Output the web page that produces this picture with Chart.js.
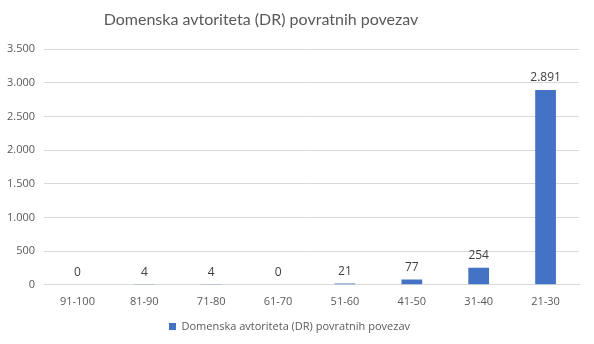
<!DOCTYPE html>
<html>
<head>
<meta charset="utf-8">
<script src="https://cdn.jsdelivr.net/npm/chart.js@4/dist/chart.umd.min.js"></script>
<style>
  html, body { margin: 0; padding: 0; background: #fff; }
  #wrap { width: 594px; height: 344px; position: relative; }
</style>
</head>
<body>
<div id="wrap"><canvas id="dr-chart"></canvas></div>
<script>
// backlink domain rating buckets
const categories = ['91-100', '81-90', '71-80', '61-70', '51-60', '41-50', '31-40', '21-30'];
const backlinks = [0, 4, 4, 0, 21, 77, 254, 2891];
const seriesName = 'Domenska avtoriteta (DR) povratnih povezav';
const chartTitle = 'Domenska avtoriteta (DR) povratnih povezav';

const fontFamily = "'Open Sans', 'Liberation Sans', sans-serif";

// Slovenian thousands separator
const fmt = (v) => String(v).replace(/\B(?=(\d{3})+(?!\d))/g, '.');

// value labels above each bar
const valueLabels = {
  id: 'valueLabels',
  afterDatasetsDraw(chart) {
    const ctx = chart.ctx;
    const meta = chart.getDatasetMeta(0);
    ctx.save();
    ctx.font = '12px ' + fontFamily;
    ctx.fillStyle = '#404040';
    ctx.textAlign = 'center';
    ctx.textBaseline = 'bottom';
    meta.data.forEach((bar, i) => {
      ctx.fillText(fmt(backlinks[i]), bar.x, bar.y - 6);
    });
    ctx.restore();
  }
};

// title sits a little left of centre
const titleText = {
  id: 'titleText',
  afterDraw(chart) {
    const ctx = chart.ctx;
    ctx.save();
    ctx.font = "16px Lato, 'Open Sans', sans-serif";
    ctx.fillStyle = '#595959';
    ctx.textAlign = 'center';
    ctx.textBaseline = 'middle';
    ctx.fillText(chartTitle, 261, 20);
    ctx.restore();
  }
};

const ctx = document.getElementById('dr-chart').getContext('2d');
new Chart(ctx, {
  type: 'bar',
  data: {
    labels: categories,
    datasets: [{
      label: seriesName,
      data: backlinks,
      backgroundColor: '#4472C4',
      barPercentage: 0.62,
      categoryPercentage: 0.5
    }]
  },
  options: {
    responsive: true,
    maintainAspectRatio: false,
    animation: false,
    layout: { padding: { left: 0, right: 15, top: 49, bottom: 2 } },
    plugins: {
      legend: {
        position: 'bottom',
        labels: {
          color: '#595959',
          font: { family: fontFamily, size: 11 },
          boxWidth: 7,
          boxHeight: 7,
          padding: 10
        }
      },
      tooltip: { enabled: false }
    },
    scales: {
      x: {
        grid: { display: false },
        border: { color: '#d9d9d9' },
        ticks: { color: '#595959', font: { family: fontFamily, size: 11 }, padding: 2.5 }
      },
      y: {
        min: 0,
        max: 3500,
        ticks: {
          stepSize: 500,
          color: '#595959',
          font: { family: fontFamily, size: 11 },
          padding: 9,
          callback: (v) => fmt(v)
        },
        grid: { color: '#d9d9d9', drawTicks: false },
        border: { display: false },
        afterFit(axis) { axis.width = 44; }
      }
    }
  },
  plugins: [valueLabels, titleText]
});
</script>
</body>
</html>
